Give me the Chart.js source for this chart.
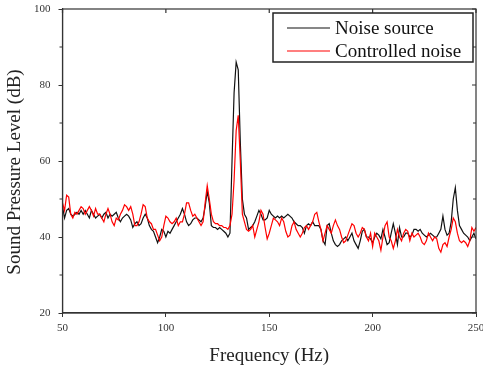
<!DOCTYPE html>
<html>
<head>
<meta charset="utf-8">
<script src="https://cdn.jsdelivr.net/npm/chart.js@4.4.1/dist/chart.umd.min.js"></script>
<style>
html,body{margin:0;padding:0;background:#fff;}
#wrap{width:483px;height:370px;position:relative;}
</style>
</head>
<body>
<div id="wrap"><canvas id="c"></canvas></div>
<script>
// Frequency axis (Hz), 1 Hz resolution from 50 to 250
const freqStart = 50, freqEnd = 250;
const frequencies = [];
for (let f = freqStart; f <= freqEnd; f++) frequencies.push(f);

const noiseSource = [
48,45,47,47.5,46,45.5,46,46.5,46,47,
46,47,46,45,47,46,45,45.5,46,45,
46,46.5,45,46,45.5,46,46.5,45,44,45,
45.5,46,45.5,44.5,42.5,43.5,44,43,43.5,45,
46,45,43,42,41.5,40,38.5,40,42,41.5,
40,41.5,41,42,43,44,45,46,47.5,46,
44,43,43.5,44.5,45,45,44.5,44,45,48,
52,49,43,42.5,42.5,42,42.5,42,41.5,41,
40,41,60,78,86,84,65,50,46,45,
42,42.5,43,44,45.5,47,46,44.5,44.5,45,
47,46,45.5,45,45.5,45,45.5,45,45.5,46,
45.5,45,44,43.5,43,43,42.5,41,43,43.5,
43,44,43,43,43,42,39,38,43,43.5,
41,39,38,37.5,38,39,39.5,40,39,40,
41,39,38,37,39,41.5,42,40,40,39.5,
38.5,40,41,40.5,39.5,42,40,38,38.5,41,
43.5,41,38,42.5,40,40,41,41,40,40.5,
42,42,41.5,42,41,40.5,40,40.5,41,40.5,
40,40,41,42,45.5,42,40.5,41,44,50,
53,47,43,42,41,40.5,40,39,40,41,
39.5
];

const controlledNoise = [
49,47,51,50.5,46,45,46.5,46,47,48,
47.5,46,47,48,47,45.5,47.5,46,46,45,
44,46,47.5,46,44,43,45,44.5,46,47,
48.5,48,47,48,46,43,43,44,46,48.5,
48,45,44,43.5,42,42,40.5,39,40,43,
45.5,45,44,43.5,44,45,43,44,44,46,
49,49,47,45.5,46,45,44,43,44,49,
53.5,50,46,44,43.5,43.5,43,43,42.5,42.5,
42,43,46,55,68,72,60,46,44,42,
41.5,42,43,40,42,44,47,46,42.5,39.5,
41,43,45,44.5,44,43,45,44,41.5,40,
40.5,43,44,42,41,40,41,42.5,43,42,
43,44,46,46.5,44,42,39,41,43,42,
41,43,44.5,43,42,40,38.5,39,40.5,42,
43.5,43,41,40,41,42.5,42,40,39,41,
37.5,41,40,39,36.5,40,43,44,40,39,
37,39,42,40,39,41,42,41.5,39,41,
40,40.5,41,40,38.5,38,39,41,40,39,
40,39.5,37,36,38,38.5,37.5,40,42,45,
44,41,39,38.5,39,38.5,37.5,39,42.5,41.5,
42.5
];

const xTicks = [50, 100, 150, 200, 250];
const yTicks = [20, 40, 60, 80, 100];
const yMinorTicks = [30, 50, 70, 90];
const seriesLabels = ['Noise source', 'Controlled noise'];
const seriesColors = ['#111111', '#ff0000'];
const xTitle = 'Frequency (Hz)';
const yTitle = 'Sound Pressure Level (dB)';

const serif = "'Liberation Serif', 'DejaVu Serif', serif";

const frameAndLegend = {
  id: 'frameAndLegend',
  afterDraw(chart) {
    const ctx = chart.ctx;
    const a = chart.chartArea;
    const xs = chart.scales.x, ys = chart.scales.y;
    ctx.save();
    ctx.strokeStyle = '#333';
    ctx.lineWidth = 1.2;
    ctx.strokeRect(a.left, a.top, a.right - a.left, a.bottom - a.top);
    ctx.beginPath();
    xTicks.forEach(v => {
      const px = xs.getPixelForValue(v);
      ctx.moveTo(px, a.top); ctx.lineTo(px, a.top + 4);
    });
    yTicks.concat(yMinorTicks).forEach(v => {
      const py = ys.getPixelForValue(v);
      const len = yTicks.includes(v) ? 4 : 3;
      ctx.moveTo(a.right, py); ctx.lineTo(a.right - len, py);
    });
    yMinorTicks.forEach(v => {
      const py = ys.getPixelForValue(v);
      ctx.moveTo(a.left, py); ctx.lineTo(a.left - 3, py);
    });
    ctx.stroke();

    // y axis title (placed slightly below centre, as in the reference)
    ctx.save();
    ctx.translate(15, 172);
    ctx.rotate(-Math.PI / 2);
    ctx.font = "19px " + serif;
    ctx.fillStyle = '#222';
    ctx.textAlign = 'center';
    ctx.textBaseline = 'middle';
    ctx.fillText(yTitle, 0, 0);
    ctx.restore();

    // legend box
    const bx = 273, by = 13, bw = 200, bh = 49;
    ctx.fillStyle = '#fff';
    ctx.fillRect(bx, by, bw, bh);
    ctx.strokeStyle = '#222';
    ctx.lineWidth = 1.5;
    ctx.strokeRect(bx, by, bw, bh);
    ctx.font = "19px " + serif;
    ctx.textBaseline = 'middle';
    ctx.textAlign = 'left';
    const rows = [28, 51];
    seriesLabels.forEach((lab, i) => {
      ctx.strokeStyle = seriesColors[i];
      ctx.lineWidth = 1.2;
      ctx.beginPath();
      ctx.moveTo(287, rows[i]); ctx.lineTo(330, rows[i]);
      ctx.stroke();
      ctx.fillStyle = '#111';
      ctx.fillText(lab, 335, rows[i] + 1);
    });
    ctx.restore();
  }
};

new Chart(document.getElementById('c'), {
  type: 'line',
  data: {
    datasets: [
      {
        label: seriesLabels[0],
        data: frequencies.map((f, i) => ({x: f, y: noiseSource[i]})),
        borderColor: seriesColors[0], borderWidth: 1.2,
        pointRadius: 0, tension: 0, order: 2
      },
      {
        label: seriesLabels[1],
        data: frequencies.map((f, i) => ({x: f, y: controlledNoise[i]})),
        borderColor: seriesColors[1], borderWidth: 1.2,
        pointRadius: 0, tension: 0, order: 1
      }
    ]
  },
  options: {
    responsive: true,
    maintainAspectRatio: false,
    animation: false,
    events: [],
    layout: { padding: { left: 26, right: 7, top: 9, bottom: 3 } },
    plugins: { legend: { display: false }, tooltip: { enabled: false } },
    scales: {
      x: {
        type: 'linear', min: 50, max: 250,
        afterBuildTicks(s) { s.ticks = xTicks.map(v => ({value: v})); },
        afterFit(s) { s.paddingRight = 0; },
        grid: { drawOnChartArea: false, drawTicks: true, tickLength: 4, color: '#333' },
        border: { display: true, color: '#333', width: 1.2 },
        ticks: { color: '#333', font: { family: serif, size: 11 }, padding: 5, maxRotation: 0 },
        title: { display: true, text: xTitle, color: '#222', font: { family: serif, size: 19 }, padding: { top: 4, bottom: 0 } }
      },
      y: {
        min: 20, max: 100,
        afterBuildTicks(s) { s.ticks = yTicks.map(v => ({value: v})); },
        afterFit(s) { s.paddingTop = 0; s.paddingBottom = 0; },
        grid: { drawOnChartArea: false, drawTicks: true, tickLength: 4, color: '#333' },
        border: { display: true, color: '#333', width: 1.2 },
        ticks: { color: '#333', font: { family: serif, size: 11 }, padding: 8 },
        title: { display: false }
      }
    }
  },
  plugins: [frameAndLegend]
});
</script>
</body>
</html>
